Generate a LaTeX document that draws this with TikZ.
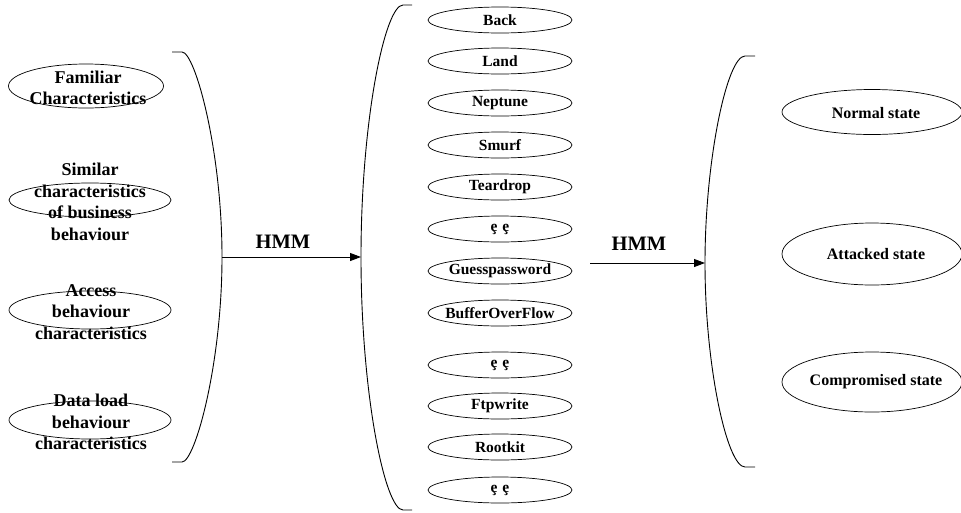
\documentclass[tikz,border=0pt]{standalone}
\usepackage{fontspec}
\setmainfont{Liberation Serif}
\usetikzlibrary{shapes.geometric,arrows.meta}
\tikzset{
  oval/.style={draw,ellipse,line width=0.7pt,inner sep=0pt},
  featoval/.style={oval,minimum width=162pt,minimum height=38pt},
  attackoval/.style={oval,minimum width=144pt,minimum height=26pt},
  stateoval/.style={oval,minimum width=180pt},
  feattext/.style={align=center,font=\fontsize{18}{21.5}\selectfont\bfseries,inner sep=0pt},
  attacktext/.style={font=\fontsize{15.5}{18}\selectfont\bfseries,inner sep=0pt},
  statetext/.style={font=\fontsize{16}{19}\selectfont\bfseries,inner sep=0pt},
  bracket/.style={line width=0.9pt},
  flow/.style={line width=0.9pt,-{Triangle[length=11pt,width=8pt]}},
  hmmlabel/.style={font=\fontsize{20.5}{24}\selectfont\bfseries,inner sep=0pt}
}
\begin{document}
\begin{tikzpicture}[x=1pt,y=-1pt]
\useasboundingbox (0,0) rectangle (961,512);

% input features
\node[oval,minimum width=155pt,minimum height=44pt] (f1) at (86,86) {};
\node[feattext] (t1) at (88,88) {Familiar\\Characteristics};
\node[featoval,minimum height=34pt] (f2) at (90,200) {};
\node[feattext] (t2) at (90,202) {Similar\\characteristics\\of business\\behaviour};
\node[featoval] (f3) at (90,310) {};
\node[feattext] (t3) at (91,312) {Access\\behaviour\\characteristics};
\node[featoval] (f4) at (90,420) {};
\node[feattext] (t4) at (91,422) {Data load\\behaviour\\characteristics};

% left bracket
\coordinate (lb) at (222,257);
\draw[bracket] (172,52) -- (182,52) .. controls (195,52) and (222,150) .. (lb)
  .. controls (222,364) and (195,462) .. (182,462) -- (172,462);

% attack types
\coordinate (mb) at (361,257);
\draw[bracket] (412,5) -- (403,5) .. controls (385,5) and (361,120) .. (mb)
  .. controls (361,394) and (385,510) .. (403,510) -- (412,510);

\foreach \name/\y/\txt in {a1/20/Back,a2/61/Land,a3/103/Neptune,a4/145/Smurf,
  a5/187/Teardrop,a6/229/{ȩ\hspace{5pt}ȩ},a7/271/Guesspassword,a8/313/BufferOverFlow,
  a9/365/{ȩ\hspace{5pt}ȩ},a10/406/Ftpwrite,a11/447/Rootkit,a12/490/{ȩ\hspace{5pt}ȩ}}{
  \node[attackoval] (\name) at (500,\y) {};
  \node[attacktext] at (\name) {\txt};
}

% first HMM step
\draw[flow] (lb) -- (mb);
\node[hmmlabel] (h1) at (283,242) {HMM};

% right bracket
\coordinate (a2s) at (590,263);
\coordinate (rb) at (705,263);
\draw[bracket] (755,56) -- (745,56) .. controls (727,56) and (705,160) .. (rb)
  .. controls (705,366) and (727,467) .. (745,467) -- (755,467);

% second HMM step
\draw[flow] (a2s) -- (rb);
\node[hmmlabel] (h2) at (639,244) {HMM};

% states
\node[stateoval,minimum height=45pt] (s1) at (872,112) {};
\node[statetext] at (876,113) {Normal state};
\node[stateoval,minimum height=62pt] (s2) at (872,254) {};
\node[statetext] at (876,254) {Attacked state};
\node[stateoval,minimum height=60pt] (s3) at (872,382) {};
\node[statetext] at (876,382) {Compromised state};
\end{tikzpicture}
\end{document}
